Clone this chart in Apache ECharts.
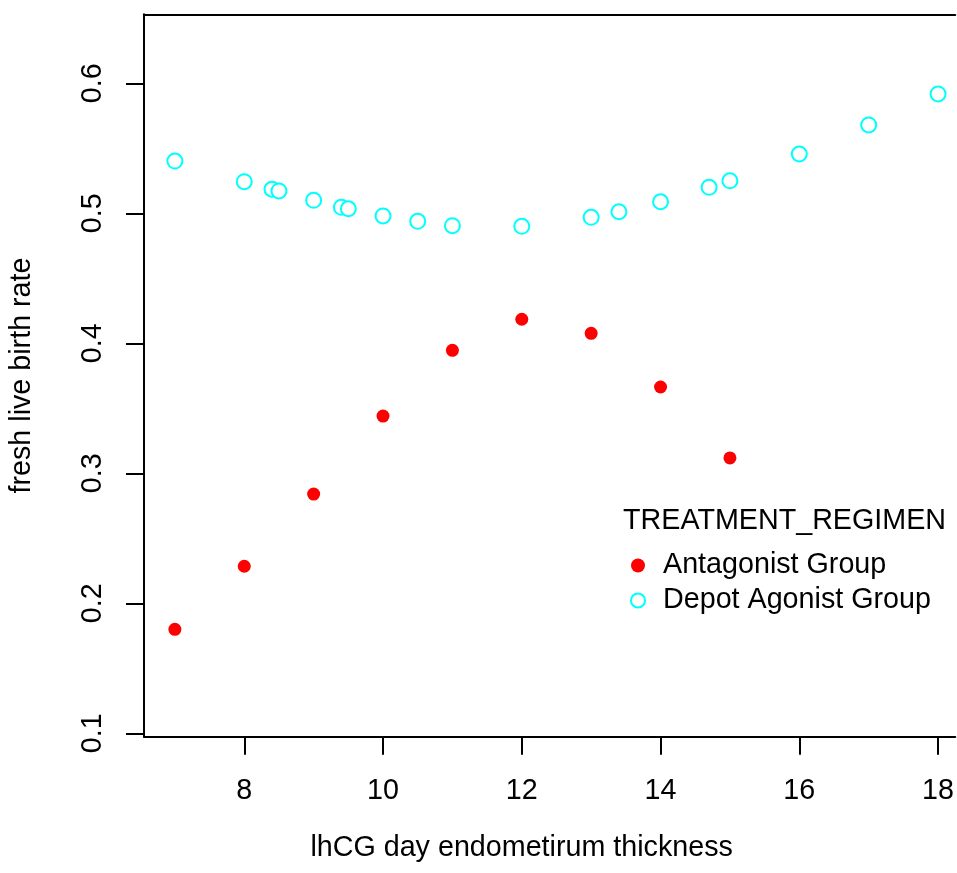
<!DOCTYPE html>
<html>
<head>
<meta charset="utf-8">
<script src="https://cdn.jsdelivr.net/npm/echarts@6/dist/echarts.min.js"></script>
<style>
html,body{margin:0;padding:0;background:#fff;}
#chart{width:957px;height:873px;}
</style>
</head>
<body>
<div id="chart"></div>
<script>
// ---- data ----
var antagonistX = [7, 8, 9, 10, 11, 12, 13, 14, 15];
var antagonistY = [0.180, 0.2285, 0.284, 0.344, 0.3946, 0.4185, 0.4077, 0.3664, 0.3118];

var depotX = [7, 8, 8.4, 8.5, 9, 9.4, 9.5, 10, 10.5, 11, 12, 13, 13.4, 14, 14.7, 15, 16, 17, 18];
var depotY = [0.5402, 0.5243, 0.5185, 0.5172, 0.510, 0.5046, 0.5035, 0.498, 0.4938, 0.4905, 0.490, 0.4969, 0.5012, 0.5089, 0.520, 0.525, 0.5456, 0.568, 0.5918];

var xTicks = [8, 10, 12, 14, 16, 18];
var yTicks = [0.1, 0.2, 0.3, 0.4, 0.5, 0.6];

var seriesNames = ['Antagonist Group', 'Depot Agonist Group'];
var legendTitle = 'TREATMENT_REGIMEN';
var xTitle = 'lhCG day endometirum thickness';
var yTitle = 'fresh live birth rate';

function zip(xs, ys) { return xs.map(function (x, i) { return [x, ys[i]]; }); }

var FONT = '"Liberation Sans", Arial, Helvetica, sans-serif';
var FS = 28.7;
var XMIN = 6.555, XMAX = 18.248;

var chart = echarts.init(document.getElementById('chart'), null, {renderer: 'canvas'});
chart.setOption({
  animation: false,
  backgroundColor: '#ffffff',
  textStyle: {fontFamily: FONT},
  title: {
    text: legendTitle,
    left: 623, top: 507, padding: 0,
    textStyle: {fontFamily: FONT, fontSize: FS, fontWeight: 'normal', color: '#000'}
  },
  legend: {
    orient: 'vertical',
    left: 630, top: 548, padding: 0,
    itemWidth: 40, itemHeight: 14, itemGap: 0,
    textStyle: {fontFamily: FONT, fontSize: FS, color: '#000', lineHeight: 35},
    data: [
      {name: seriesNames[0], icon: 'circle'},
      {name: seriesNames[1], icon: 'emptyCircle', itemStyle: {borderWidth: 2}}
    ]
  },
  grid: {
    left: 142.7, right: 0, top: 14.3, bottom: 136.3,
    show: false
  },
  xAxis: [{
    type: 'value', min: XMIN, max: XMAX,
    name: xTitle, nameLocation: 'middle', nameGap: 97,
    nameTextStyle: {fontFamily: FONT, fontSize: FS, color: '#000', padding: [0, 56, 0, 0]},
    axisLine: {show: true, onZero: false, lineStyle: {color: '#000', width: 2}},
    axisTick: {show: true, inside: false, length: 18, lineStyle: {color: '#000', width: 2}, customValues: xTicks},
    axisLabel: {fontFamily: FONT, fontSize: FS, color: '#000', margin: 40, customValues: xTicks},
    splitLine: {show: false}
  }, {
    type: 'value', min: XMIN, max: XMAX, position: 'top',
    axisLine: {show: true, onZero: false, lineStyle: {color: '#000', width: 2}},
    axisTick: {show: false}, axisLabel: {show: false}, splitLine: {show: false}
  }],
  yAxis: {
    type: 'value', min: 0.09738, max: 0.65308,
    name: yTitle, nameLocation: 'middle', nameGap: 107,
    nameRotate: 90,
    nameTextStyle: {fontFamily: FONT, fontSize: FS, color: '#000'},
    axisLine: {show: true, onZero: false, lineStyle: {color: '#000', width: 2}},
    axisTick: {show: true, inside: false, length: 18, lineStyle: {color: '#000', width: 2}, customValues: yTicks},
    axisLabel: {fontFamily: FONT, fontSize: FS, color: '#000', margin: 36, rotate: 90, customValues: yTicks,
      formatter: function (v) { return v.toFixed(1); }},
    splitLine: {show: false}
  },
  series: [
    {
      name: seriesNames[0], type: 'scatter', xAxisIndex: 0,
      symbol: 'circle', symbolSize: 13,
      itemStyle: {color: '#ff0000', opacity: 1},
      data: zip(antagonistX, antagonistY)
    },
    {
      name: seriesNames[1], type: 'scatter', xAxisIndex: 0,
      symbol: 'emptyCircle', symbolSize: 15,
      itemStyle: {color: '#00ffff', borderColor: '#00ffff', borderWidth: 2, opacity: 1},
      data: zip(depotX, depotY)
    }
  ]
});
</script>
</body>
</html>
